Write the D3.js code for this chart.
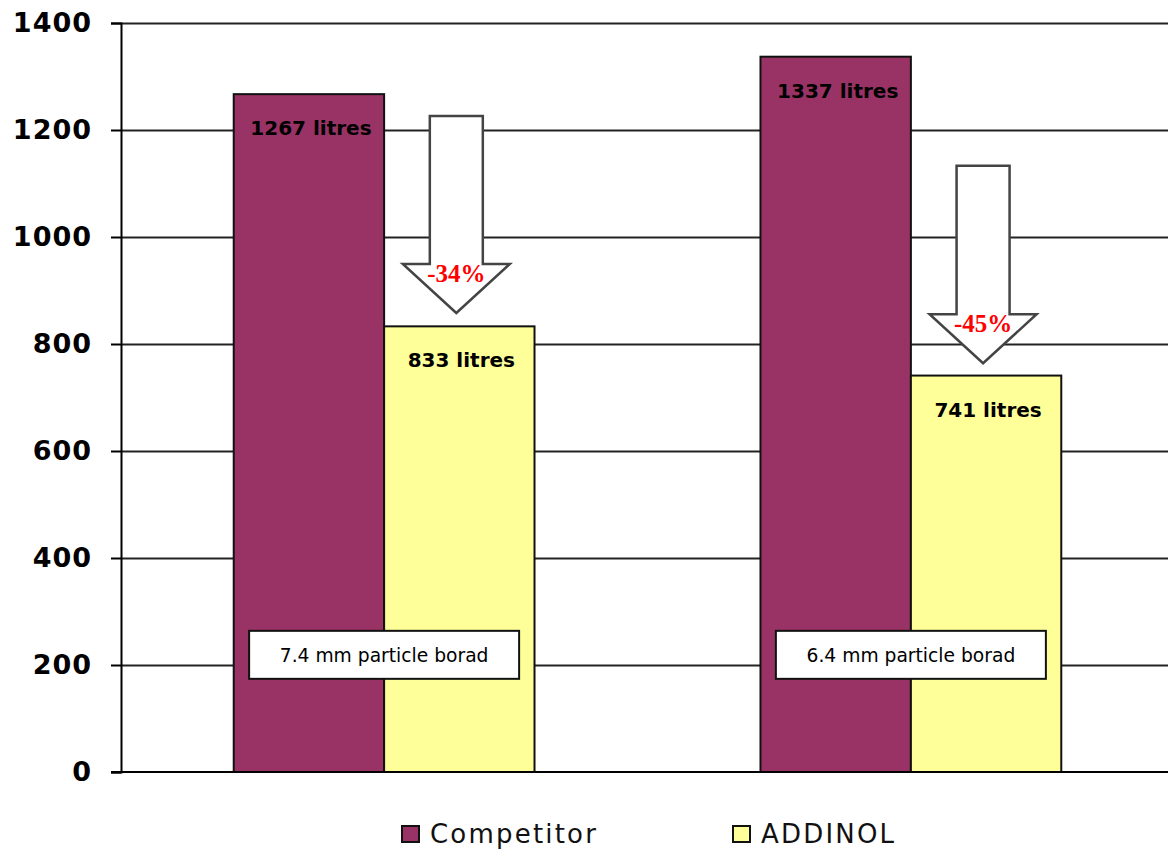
<!DOCTYPE html>
<html>
<head>
<meta charset="utf-8">
<script src="https://cdn.jsdelivr.net/npm/d3@7"></script>
<style>
  html, body { margin: 0; padding: 0; background: #fff; }
  svg { display: block; }
</style>
</head>
<body>
<svg id="chart" width="1168" height="850"></svg>
<script>
// ---- data ----
const categories = ["7.4 mm particle borad", "6.4 mm particle borad"];
const seriesNames = ["Competitor", "ADDINOL"];
const competitorValues = [1267, 1337];
const addinolValues = [833, 741];
const valueLabels = [["1267 litres", "833 litres"], ["1337 litres", "741 litres"]];
const yTicks = [0, 200, 400, 600, 800, 1000, 1200, 1400];
const arrowTop = [1226, 1133];
const arrowTip = [858, 764];
const arrowLabels = ["-34%", "-45%"];

(function () {
// ---- layout ----
const svg = d3.select("#chart");
const mLeft = 121, mRight = 1174, mTop = 23, mBottom = 772;
const colors = { Competitor: "#993366", ADDINOL: "#FFFF99" };

const y = d3.scaleLinear().domain([0, 1400]).range([mBottom, mTop]);
const x0 = d3.scaleBand().domain(categories).range([mLeft, mRight])
  .paddingInner(0.429).paddingOuter(0.214);
const x1 = d3.scaleBand().domain(seriesNames).range([0, x0.bandwidth()]);

// gridlines
svg.append("g").selectAll("line").data(yTicks.filter(d => d > 0)).join("line")
  .attr("x1", mLeft).attr("x2", 1168)
  .attr("y1", d => Math.round(y(d)) + 0.5).attr("y2", d => Math.round(y(d)) + 0.5)
  .attr("stroke", "#222").attr("stroke-width", 2);

// y axis
const yAxis = d3.axisLeft(y).tickValues(yTicks).tickFormat(d3.format("d"))
  .tickSize(10).tickPadding(19);
const gy = svg.append("g").attr("transform", `translate(${mLeft},0)`).call(yAxis);
gy.select(".domain").attr("stroke", "#000").attr("stroke-width", 2);
gy.selectAll(".tick line").attr("stroke", "#000").attr("stroke-width", 2);
gy.selectAll(".tick text")
  .attr("font-family", "DejaVu Sans, Verdana, sans-serif")
  .attr("font-weight", "bold").attr("font-size", 27).attr("fill", "#000")
  .attr("letter-spacing", 1);

// bars
const rows = categories.map((c, i) => ({
  cat: c, i,
  vals: [
    { s: "Competitor", v: competitorValues[i], label: valueLabels[i][0] },
    { s: "ADDINOL", v: addinolValues[i], label: valueLabels[i][1] }
  ]
}));

const groups = svg.append("g").selectAll("g").data(rows).join("g")
  .attr("transform", d => `translate(${x0(d.cat)},0)`);

groups.selectAll("rect").data(d => d.vals).join("rect")
  .attr("x", d => x1(d.s))
  .attr("y", d => y(d.v))
  .attr("width", x1.bandwidth())
  .attr("height", d => y(0) - y(d.v))
  .attr("fill", d => colors[d.s])
  .attr("stroke", "#111").attr("stroke-width", 2);

groups.selectAll("text.val").data(d => d.vals).join("text")
  .attr("class", "val")
  .attr("x", d => x1(d.s) + x1.bandwidth() / 2 + 2)
  .attr("y", d => y(d.v) + 41)
  .attr("text-anchor", "middle")
  .attr("font-family", "DejaVu Sans, Verdana, sans-serif")
  .attr("font-weight", "bold").attr("font-size", 20)
  .attr("fill", "#000")
  .text(d => d.label);

// x axis line (zero line)
svg.append("line").attr("x1", mLeft - 10).attr("x2", 1168)
  .attr("y1", y(0)).attr("y2", y(0)).attr("stroke", "#000").attr("stroke-width", 2);

// arrows
const arrowData = categories.map((c, i) => ({
  cx: x0(c) + x1("ADDINOL") + x1.bandwidth() / 2 - 3,
  top: y(arrowTop[i]), tip: y(arrowTip[i]), label: arrowLabels[i]
}));
const shaftHalf = 26.5, headHalf = 53.5, headH = 49;
const ag = svg.append("g").selectAll("g").data(arrowData).join("g");
ag.append("path")
  .attr("d", d => {
    const hs = d.tip - headH;
    return `M${d.cx - shaftHalf},${d.top} L${d.cx + shaftHalf},${d.top} L${d.cx + shaftHalf},${hs} ` +
      `L${d.cx + headHalf},${hs} L${d.cx},${d.tip} L${d.cx - headHalf},${hs} L${d.cx - shaftHalf},${hs} Z`;
  })
  .attr("fill", "#fff").attr("stroke", "#444").attr("stroke-width", 2.5)
  .attr("stroke-linejoin", "miter");
ag.append("text")
  .attr("x", d => d.cx).attr("y", d => d.tip - headH + 18)
  .attr("text-anchor", "middle")
  .attr("font-family", "Liberation Serif, Times New Roman, serif")
  .attr("font-weight", "bold").attr("font-size", 25)
  .attr("fill", "#ff0000")
  .text(d => d.label);

// category label boxes
const cg = svg.append("g").selectAll("g").data(categories).join("g")
  .attr("transform", d => `translate(${x0(d) + x0.bandwidth() / 2},${y(219)})`);
cg.append("rect").attr("x", -135).attr("y", -24).attr("width", 270).attr("height", 48)
  .attr("fill", "#fff").attr("stroke", "#111").attr("stroke-width", 2);
cg.append("text").attr("x", 0).attr("y", 7).attr("text-anchor", "middle")
  .attr("font-family", "DejaVu Sans, Verdana, sans-serif")
  .attr("font-size", 18.7).attr("fill", "#000")
  .text(d => d);

// legend
const legendX = [402, 733];
const lg = svg.append("g").selectAll("g").data(seriesNames).join("g")
  .attr("transform", (d, i) => `translate(${legendX[i]},826)`);
lg.append("rect").attr("x", 0).attr("y", 0).attr("width", 17).attr("height", 16)
  .attr("fill", d => colors[d]).attr("stroke", "#111").attr("stroke-width", 2);
lg.append("text").attr("x", 28).attr("y", 17)
  .attr("font-family", "DejaVu Sans, Verdana, sans-serif")
  .attr("font-size", 26).attr("letter-spacing", 2.2).attr("fill", "#111")
  .text(d => d);
})();
</script>
</body>
</html>
